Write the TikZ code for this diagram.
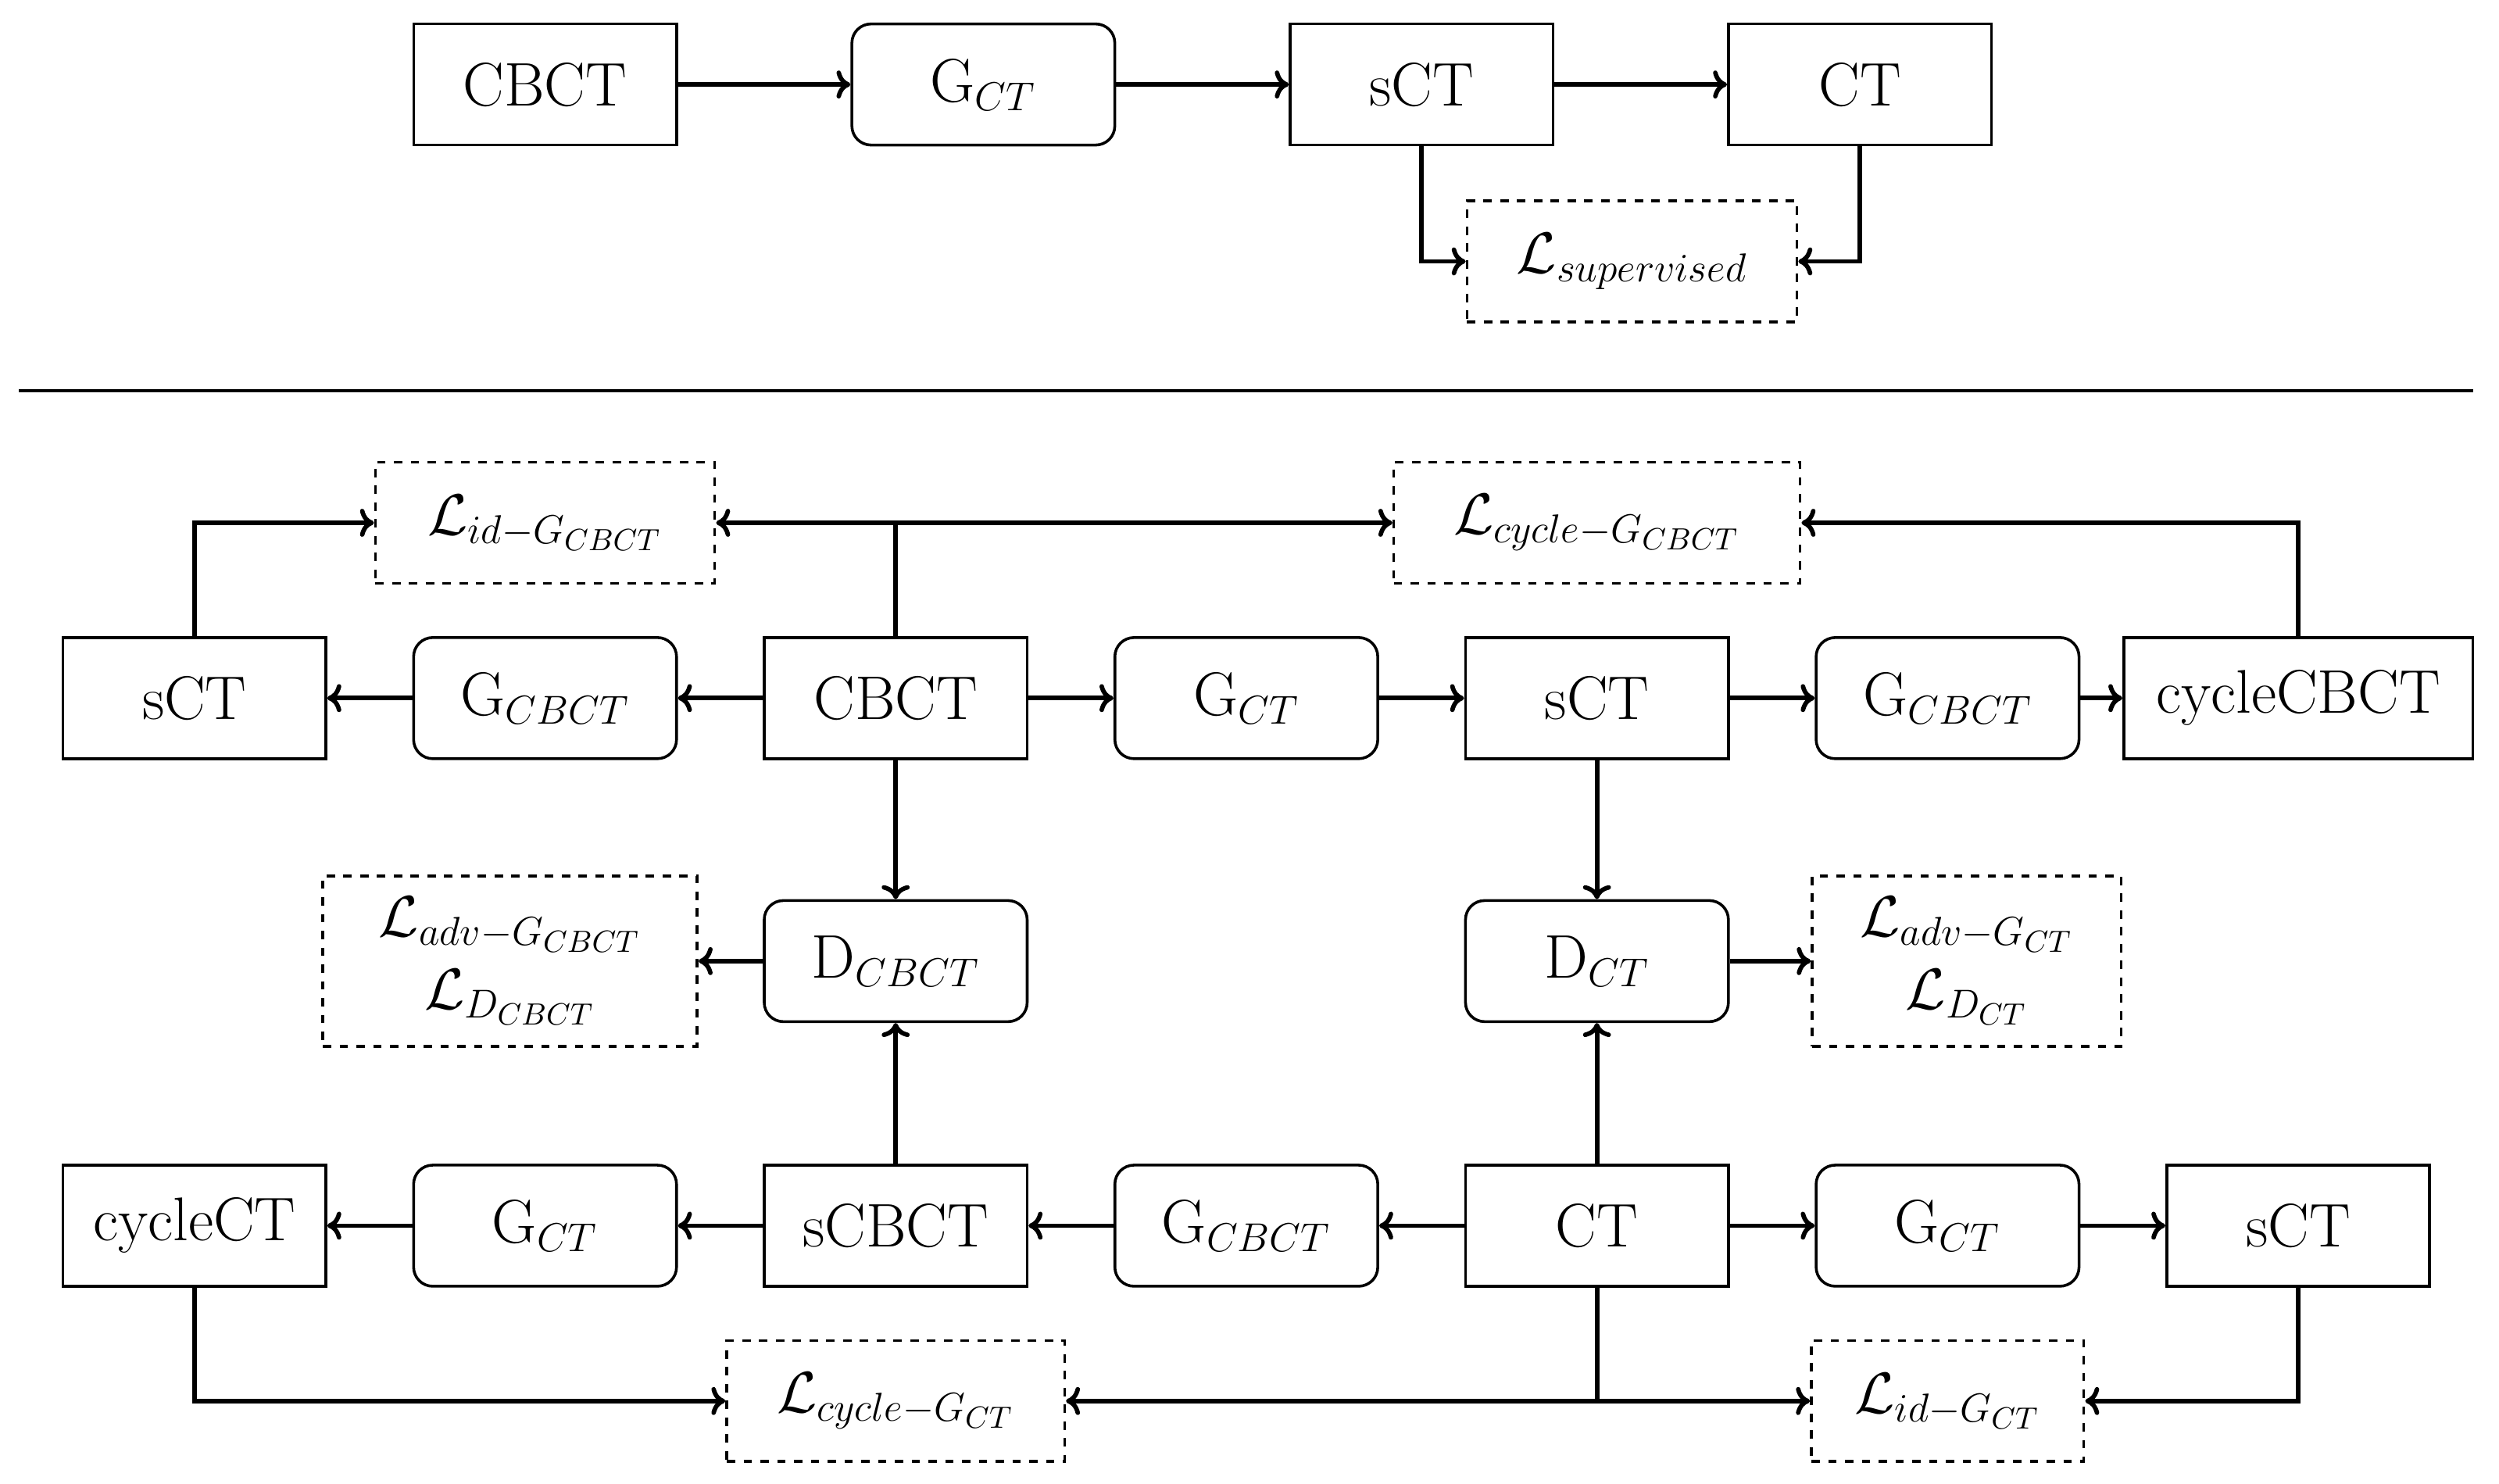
\documentclass[tikz,border=0pt]{standalone}
\usetikzlibrary{arrows.meta}
\begin{document}
\begin{tikzpicture}[x=0.02cm,y=-0.02cm,
  font=\fontsize{22}{26}\selectfont,
  box/.style={draw,line width=1pt,minimum width=3.3cm,minimum height=1.52cm,inner sep=0pt},
  gen/.style={box,rounded corners=0.24cm},
  loss/.style={draw,dashed,line width=1pt,minimum height=1.52cm,inner sep=0pt,align=center},
  arr/.style={line width=1.6pt,-{To[length=5pt,width=10pt]}},
  ln/.style={line width=1.6pt}]
\useasboundingbox (0,0) rectangle (1568,931);
% top
\node[box] (tc) at (342,53) {CBCT};
\node[gen] (tg) at (617,53) {G$_{CT}$};
\node[box] (ts) at (892,53) {sCT};
\node[box] (tt) at (1167,53) {CT};
\node[loss,minimum width=4.14cm] (tl) at (1024,164) {$\mathcal{L}_{supervised}$};
\draw[arr] (tc) -- (tg);
\draw[arr] (tg) -- (ts);
\draw[arr] (ts) -- (tt);
\draw[arr] (ts.south) |- (tl.west);
\draw[arr] (tt.south) |- (tl.east);
\draw[line width=1pt] (12,245) coordinate (l1) -- (1552,245) coordinate (l2);
% row 1
\node[box] (s1) at (122,438) {sCT};
\node[gen] (g1) at (342,438) {G$_{CBCT}$};
\node[box] (c1) at (562,438) {CBCT};
\node[gen] (g2) at (782,438) {G$_{CT}$};
\node[box] (s2) at (1002,438) {sCT};
\node[gen] (g3) at (1222,438) {G$_{CBCT}$};
\node[box,minimum width=4.38cm] (cc) at (1442,438) {cycleCBCT};
% losses top
\node[loss,minimum width=4.26cm] (lid1) at (342,328) {$\mathcal{L}_{id-G_{CBCT}}$};
\node[loss,minimum width=5.1cm] (lcy1) at (1002,328) {$\mathcal{L}_{cycle-G_{CBCT}}$};
% row 2
\node[loss,minimum width=4.7cm,minimum height=2.14cm] (la1) at (320,603) {$\mathcal{L}_{adv-G_{CBCT}}$\\$\mathcal{L}_{D_{CBCT}}$};
\node[gen] (d1) at (562,603) {D$_{CBCT}$};
\node[gen] (d2) at (1002,603) {D$_{CT}$};
\node[loss,minimum width=3.88cm,minimum height=2.14cm] (la2) at (1234,603) {$\mathcal{L}_{adv-G_{CT}}$\\$\mathcal{L}_{D_{CT}}$};
% row 3
\node[box] (cct) at (122,769) {cycleCT};
\node[gen] (h1) at (342,769) {G$_{CT}$};
\node[box] (sc) at (562,769) {sCBCT};
\node[gen] (h2) at (782,769) {G$_{CBCT}$};
\node[box] (ct) at (1002,769) {CT};
\node[gen] (h3) at (1222,769) {G$_{CT}$};
\node[box] (s3) at (1442,769) {sCT};
% losses bottom
\node[loss,minimum width=4.24cm] (lcy2) at (562,879) {$\mathcal{L}_{cycle-G_{CT}}$};
\node[loss,minimum width=3.42cm] (lid2) at (1222,879) {$\mathcal{L}_{id-G_{CT}}$};
% row1 arrows
\draw[arr] (g1) -- (s1);
\draw[arr] (c1) -- (g1);
\draw[arr] (c1) -- (g2);
\draw[arr] (g2) -- (s2);
\draw[arr] (s2) -- (g3);
\draw[arr] (g3) -- (cc);
\draw[arr] (s1.north) |- (lid1.west);
\coordinate (j1) at (562,328);
\draw[ln] (c1.north) -- (j1);
\draw[arr] (j1) -- (lid1.east);
\draw[arr] (j1) -- (lcy1.west);
\draw[arr] (cc.north) |- (lcy1.east);
% row 2 arrows
\draw[arr] (c1) -- (d1);
\draw[arr] (d1) -- (la1);
\draw[arr] (s2) -- (d2);
\draw[arr] (d2) -- (la2);
% row3 arrows
\draw[arr] (ct) -- (h2);
\draw[arr] (h2) -- (sc);
\draw[arr] (sc) -- (h1);
\draw[arr] (h1) -- (cct);
\draw[arr] (ct) -- (h3);
\draw[arr] (h3) -- (s3);
\draw[arr] (sc) -- (d1);
\draw[arr] (ct) -- (d2);
\draw[arr] (cct.south) |- (lcy2.west);
\coordinate (j2) at (1002,879);
\draw[ln] (ct.south) -- (j2);
\draw[arr] (j2) -- (lcy2.east);
\draw[arr] (j2) -- (lid2.west);
\draw[arr] (s3.south) |- (lid2.east);
\end{tikzpicture}
\end{document}
